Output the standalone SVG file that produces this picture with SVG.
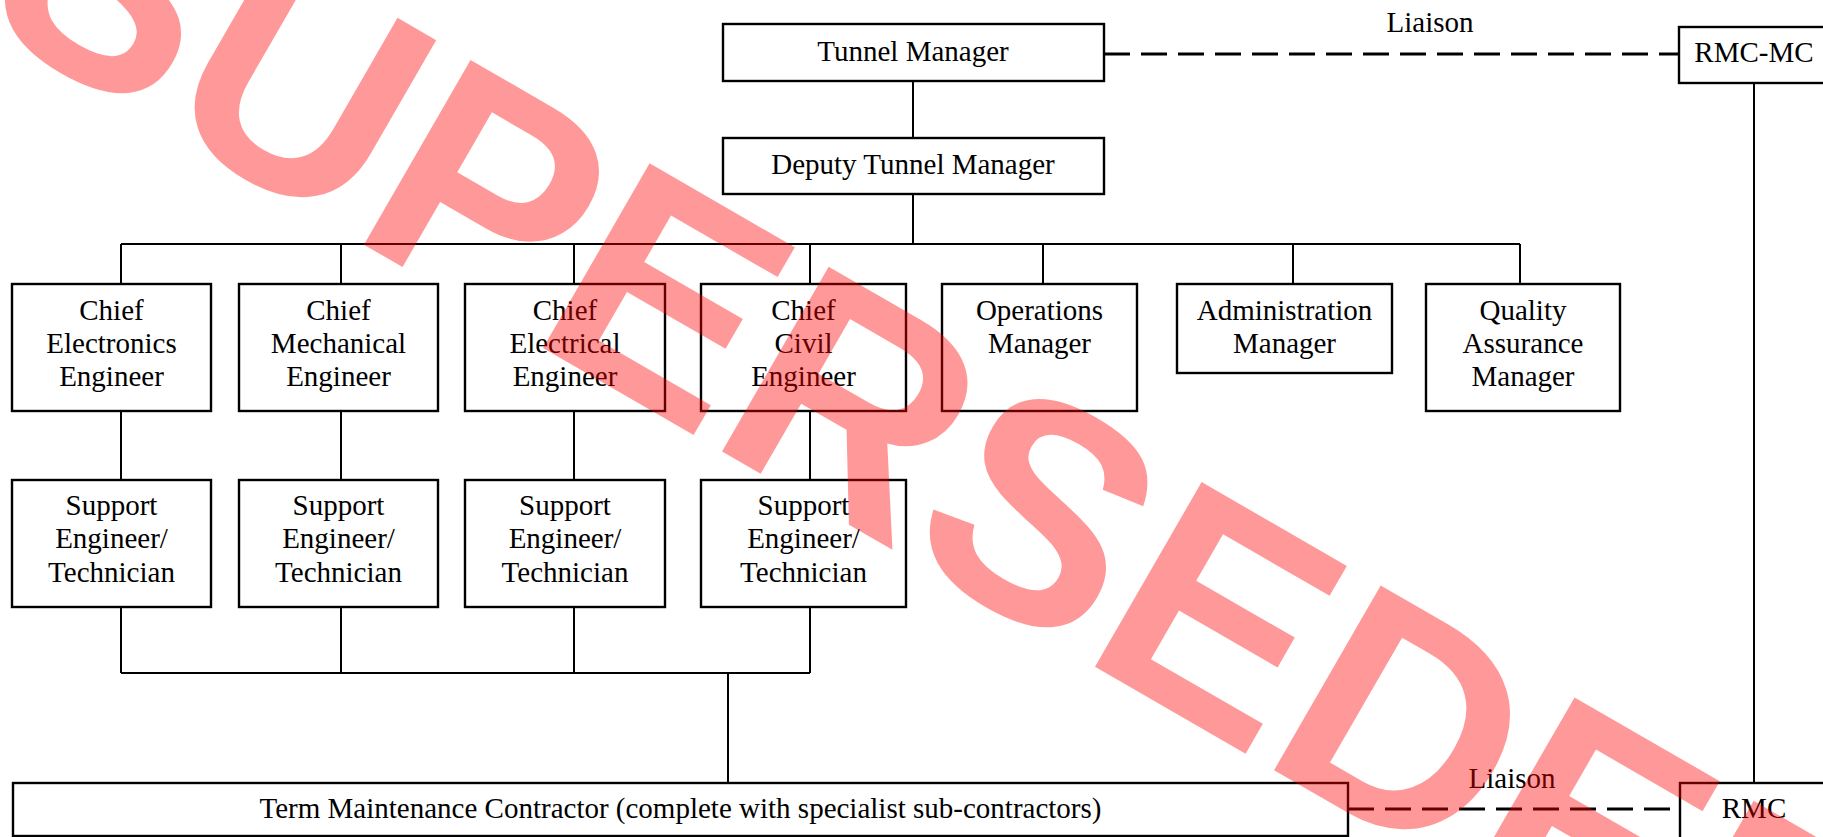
<svg xmlns="http://www.w3.org/2000/svg" width="1823" height="837" viewBox="0 0 1823 837">
<style>
.box{fill:#fff;stroke:#000;stroke-width:2.4}
.ln{fill:none;stroke:#000;stroke-width:2}
.dash{fill:none;stroke:#000;stroke-width:3;stroke-dasharray:26 11}
text{font-family:"Liberation Serif","Times New Roman",serif;font-size:29px;fill:#000;text-anchor:middle}
.wm{font-family:"Liberation Sans",Arial,sans-serif;font-weight:bold;font-size:310px;fill:#ff0000;fill-opacity:0.4;text-anchor:start}
</style>
<rect width="1823" height="837" fill="#fff"/>
<g id="connectors">
<line class="ln" x1="913" y1="81" x2="913" y2="138"/>
<line class="ln" x1="913" y1="194" x2="913" y2="244"/>
<line class="ln" x1="121" y1="244" x2="1520" y2="244"/>
<line class="ln" x1="121" y1="244" x2="121" y2="284"/>
<line class="ln" x1="341" y1="244" x2="341" y2="284"/>
<line class="ln" x1="574" y1="244" x2="574" y2="284"/>
<line class="ln" x1="810" y1="244" x2="810" y2="284"/>
<line class="ln" x1="1043" y1="244" x2="1043" y2="284"/>
<line class="ln" x1="1293" y1="244" x2="1293" y2="284"/>
<line class="ln" x1="1520" y1="244" x2="1520" y2="284"/>
<line class="ln" x1="121" y1="411" x2="121" y2="480"/>
<line class="ln" x1="341" y1="411" x2="341" y2="480"/>
<line class="ln" x1="574" y1="411" x2="574" y2="480"/>
<line class="ln" x1="810" y1="411" x2="810" y2="480"/>
<line class="ln" x1="121" y1="607" x2="121" y2="673"/>
<line class="ln" x1="341" y1="607" x2="341" y2="673"/>
<line class="ln" x1="574" y1="607" x2="574" y2="673"/>
<line class="ln" x1="810" y1="607" x2="810" y2="673"/>
<line class="ln" x1="121" y1="673" x2="810" y2="673"/>
<line class="ln" x1="728" y1="673" x2="728" y2="783"/>
<line class="ln" x1="1754" y1="83" x2="1754" y2="783"/>
<line class="dash" x1="1104" y1="54" x2="1679" y2="54"/>
<line class="dash" x1="1348" y1="809" x2="1680" y2="809"/>
<text x="1430" y="32">Liaison</text>
<text x="1512" y="788">Liaison</text>
</g>
<g id="tunnel-manager"><rect class="box" x="723" y="24" width="381" height="57"/><text x="913" y="61">Tunnel Manager</text></g>
<g id="rmc-mc"><rect class="box" x="1679" y="27" width="160" height="56"/><text x="1754" y="62">RMC-MC</text></g>
<g id="deputy-tunnel-manager"><rect class="box" x="723" y="138" width="381" height="56"/><text x="913" y="174">Deputy Tunnel Manager</text></g>
<g id="chief-electronics"><rect class="box" x="12" y="284" width="199" height="127"/><text x="111.5" y="320">Chief</text><text x="111.5" y="353">Electronics</text><text x="111.5" y="386">Engineer</text></g>
<g id="chief-mechanical"><rect class="box" x="239" y="284" width="199" height="127"/><text x="338.5" y="320">Chief</text><text x="338.5" y="353">Mechanical</text><text x="338.5" y="386">Engineer</text></g>
<g id="chief-electrical"><rect class="box" x="465" y="284" width="200" height="127"/><text x="565" y="320">Chief</text><text x="565" y="353">Electrical</text><text x="565" y="386">Engineer</text></g>
<g id="chief-civil"><rect class="box" x="701" y="284" width="205" height="127"/><text x="803.5" y="320">Chief</text><text x="803.5" y="353">Civil</text><text x="803.5" y="386">Engineer</text></g>
<g id="operations-manager"><rect class="box" x="942" y="284" width="195" height="127"/><text x="1039.5" y="320">Operations</text><text x="1039.5" y="353">Manager</text></g>
<g id="administration-manager"><rect class="box" x="1177" y="284" width="215" height="89"/><text x="1284.5" y="320">Administration</text><text x="1284.5" y="353">Manager</text></g>
<g id="quality-assurance-manager"><rect class="box" x="1426" y="284" width="194" height="127"/><text x="1523" y="320">Quality</text><text x="1523" y="353">Assurance</text><text x="1523" y="386">Manager</text></g>
<g id="support-electronics"><rect class="box" x="12" y="480" width="199" height="127"/><text x="111.5" y="515">Support</text><text x="111.5" y="548">Engineer/</text><text x="111.5" y="582">Technician</text></g>
<g id="support-mechanical"><rect class="box" x="239" y="480" width="199" height="127"/><text x="338.5" y="515">Support</text><text x="338.5" y="548">Engineer/</text><text x="338.5" y="582">Technician</text></g>
<g id="support-electrical"><rect class="box" x="465" y="480" width="200" height="127"/><text x="565" y="515">Support</text><text x="565" y="548">Engineer/</text><text x="565" y="582">Technician</text></g>
<g id="support-civil"><rect class="box" x="701" y="480" width="205" height="127"/><text x="803.5" y="515">Support</text><text x="803.5" y="548">Engineer/</text><text x="803.5" y="582">Technician</text></g>
<g id="term-maintenance-contractor"><rect class="box" x="13" y="783" width="1335" height="53"/><text x="680.5" y="818">Term Maintenance Contractor (complete with specialist sub-contractors)</text></g>
<g id="rmc"><rect class="box" x="1680" y="783" width="160" height="80"/><text x="1754" y="818">RMC</text></g>
<g id="watermark"><text class="wm" transform="translate(-27,19) rotate(30)">SUPERSEDED</text></g>
</svg>
